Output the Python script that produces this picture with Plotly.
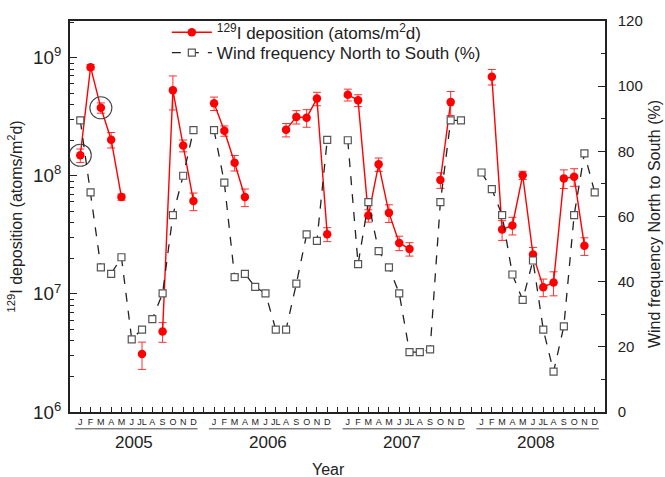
import plotly.graph_objects as go

# ---------------- data ----------------
years = ["2005", "2006", "2007", "2008"]
month_labels = ["J", "F", "M", "A", "M", "J", "JL", "A", "S", "O", "N", "D"]

# 129I deposition (atoms/m2d); None = no measurement
dep_2005 = [1.49e8, 8.3e8, 3.76e8, 2.02e8, 6.6e7, None, 3.1e6, None, 4.8e6, 5.3e8, 1.8e8, 6.1e7]
dep_2006 = [4.1e8, 2.4e8, 1.29e8, 6.6e7, None, None, None, 2.45e8, 3.15e8, 3.1e8, 4.5e8, 3.2e7]
dep_2007 = [4.85e8, 4.35e8, 4.6e7, 1.25e8, 4.85e7, 2.7e7, 2.4e7, None, None, 9.2e7, 4.2e8, None]
dep_2008 = [None, 6.9e8, 3.5e7, 3.8e7, 1.01e8, 2.15e7, 1.14e7, 1.25e7, 9.5e7, 9.8e7, 2.55e7, None]

# relative uncertainty of deposition
err_2005 = [0.13, 0.05, 0.10, 0.15, 0.06, None, 0.26, None, 0.19, 0.32, 0.115, 0.17]
err_2006 = [0.13, 0.10, 0.15, 0.17, None, None, None, 0.13, 0.13, 0.17, 0.13, 0.135]
err_2007 = [0.115, 0.115, 0.12, 0.13, 0.17, 0.14, 0.13, None, None, 0.15, 0.23, None]
err_2008 = [None, 0.15, 0.19, 0.17, 0.08, 0.15, 0.17, 0.23, 0.18, 0.17, 0.17, None]

# wind frequency North to South (%)
wind_2005 = [89.5, 67.4, 44.4, 42.4, 47.5, 22.3, 25.3, 28.5, 36.4, 60.4, 72.5, 86.5]
wind_2006 = [86.5, 70.4, 41.4, 42.4, 38.4, 36.4, 25.3, 25.3, 39.4, 54.5, 52.5, 83.5]
wind_2007 = [83.4, 45.4, 64.4, 49.4, 44.4, 36.4, 18.4, 18.4, 19.2, 64.4, 89.5, 89.5]
wind_2008 = [73.5, 68.4, 60.4, 42.2, 34.4, 46.5, 25.3, 12.4, 26.3, 60.4, 79.4, 67.4]

# points highlighted by circles (year index, month index)
circled = [(0, 0), (0, 2)]

# ---------------- build series ----------------
dep_years = [dep_2005, dep_2006, dep_2007, dep_2008]
err_years = [err_2005, err_2006, err_2007, err_2008]
wind_years = [wind_2005, wind_2006, wind_2007, wind_2008]
SLOT = 13  # 12 months + one empty slot between years

xs, dep, deperr, wind = [], [], [], []
for yi in range(len(years)):
    for m in range(12):
        xs.append(yi * SLOT + m)
        d = dep_years[yi][m]
        e = err_years[yi][m]
        dep.append(d)
        deperr.append(d * e if (d is not None and e is not None) else None)
        wind.append(wind_years[yi][m])
    if yi < len(years) - 1:
        xs.append(yi * SLOT + 12)
        dep.append(None)
        deperr.append(None)
        wind.append(None)

tickvals = list(range(0, SLOT * (len(years) - 1) + 12))
ticktext = [month_labels[v % SLOT] if v % SLOT < 12 else "" for v in tickvals]

FONT = "Arial, Liberation Sans, sans-serif"
DARK = "#222222"

fig = go.Figure()

fig.add_trace(go.Scatter(
    x=xs, y=wind, yaxis="y2", mode="lines+markers",
    name="Wind frequency North to South (%)",
    line=dict(color=DARK, width=1.3, dash="dash"),
    marker=dict(symbol="square", size=7, color="white",
                line=dict(color="#555555", width=1.2)),
    connectgaps=False, legend="legend2",
))

fig.add_trace(go.Scatter(
    x=xs, y=dep, mode="lines+markers",
    name="<sup>129</sup>I deposition (atoms/m<sup>2</sup>d)",
    line=dict(color="#ff0000", width=1.4),
    marker=dict(symbol="circle", size=8.5, color="#ff0000"),
    error_y=dict(type="data", array=deperr, visible=True,
                 color="#ff3030", thickness=1, width=4),
    connectgaps=False, legend="legend",
))

fig.add_trace(go.Scatter(
    x=[yi * SLOT + m for yi, m in circled],
    y=[dep_years[yi][m] for yi, m in circled],
    mode="markers", showlegend=False, hoverinfo="skip",
    marker=dict(symbol="circle-open", size=22, color="#444444",
                line=dict(color="#444444", width=1.1)),
))

annotations = []
shapes = []
for yi, yr in enumerate(years):
    annotations.append(dict(
        x=yi * SLOT + 5.25, y=-0.078, xref="x", yref="paper",
        text=yr, showarrow=False, font=dict(size=17, color=DARK, family=FONT),
        xanchor="center", yanchor="middle"))
    shapes.append(dict(
        type="line", xref="x", yref="paper",
        x0=yi * SLOT - 0.5, x1=yi * SLOT + 11.4, y0=-0.043, y1=-0.043,
        line=dict(color="#444444", width=1)))

annotations.append(dict(
    x=0.484, y=-0.146, xref="paper", yref="paper", text="Year",
    showarrow=False, font=dict(size=16, color=DARK, family=FONT),
    xanchor="center", yanchor="middle"))
annotations.append(dict(
    x=-0.103, y=0.5, xref="paper", yref="paper",
    text="<sup>129</sup>I deposition (atoms/m<sup>2</sup>d)",
    textangle=-90, showarrow=False,
    font=dict(size=16, color=DARK, family=FONT),
    xanchor="center", yanchor="middle"))
annotations.append(dict(
    x=1.093, y=0.48, xref="paper", yref="paper",
    text="Wind frequency North to South (%)",
    textangle=-90, showarrow=False,
    font=dict(size=16, color=DARK, family=FONT),
    xanchor="center", yanchor="middle"))

fig.update_layout(
    width=665, height=477,
    margin=dict(l=70, r=60, t=16, b=65),
    paper_bgcolor="white", plot_bgcolor="white",
    font=dict(family=FONT, color=DARK),
    showlegend=True,
    legend=dict(x=0.181, y=0.97, xanchor="left", yanchor="middle",
                bgcolor="rgba(0,0,0,0)", font=dict(size=17, color=DARK, family=FONT),
                itemwidth=40),
    legend2=dict(x=0.181, y=0.918, xanchor="left", yanchor="middle",
                 bgcolor="rgba(0,0,0,0)", font=dict(size=17, color=DARK, family=FONT),
                 itemwidth=40),
    xaxis=dict(range=[-1, 51], tickmode="array", tickvals=tickvals, ticktext=ticktext,
               ticks="inside", ticklen=5, tickcolor=DARK, tickwidth=1,
               tickfont=dict(size=9, color=DARK, family=FONT),
               showline=True, linecolor=DARK, linewidth=1.5, mirror=True,
               showgrid=False, zeroline=False, tickangle=0),
    yaxis=dict(type="log", range=[6, 9.31], dtick=1, exponentformat="power",
               ticks="inside", ticklen=7, tickcolor=DARK, tickwidth=1,
               minor=dict(ticks="inside", ticklen=4, tickcolor=DARK, showgrid=False),
               tickfont=dict(size=15, color=DARK, family=FONT),
               showline=True, linecolor=DARK, linewidth=1.5,
               showgrid=False, zeroline=False, ticklabelstandoff=4),
    yaxis2=dict(range=[0, 120], dtick=20, overlaying="y", side="right",
                ticks="inside", ticklen=7, tickcolor=DARK, tickwidth=1,
                minor=dict(dtick=10, ticks="inside", ticklen=4, tickcolor=DARK, showgrid=False),
                tickfont=dict(size=15, color=DARK, family=FONT),
                showline=True, linecolor=DARK, linewidth=1.5,
                showgrid=False, zeroline=False, ticklabelstandoff=8),
    annotations=annotations,
    shapes=shapes,
)

# remove the default page margin so the 665x477 figure fills the window exactly
fig.write_html(
    "out.html",
    config={"displayModeBar": False},
    post_script="document.body.style.margin='0';document.body.style.overflow='hidden';",
)
